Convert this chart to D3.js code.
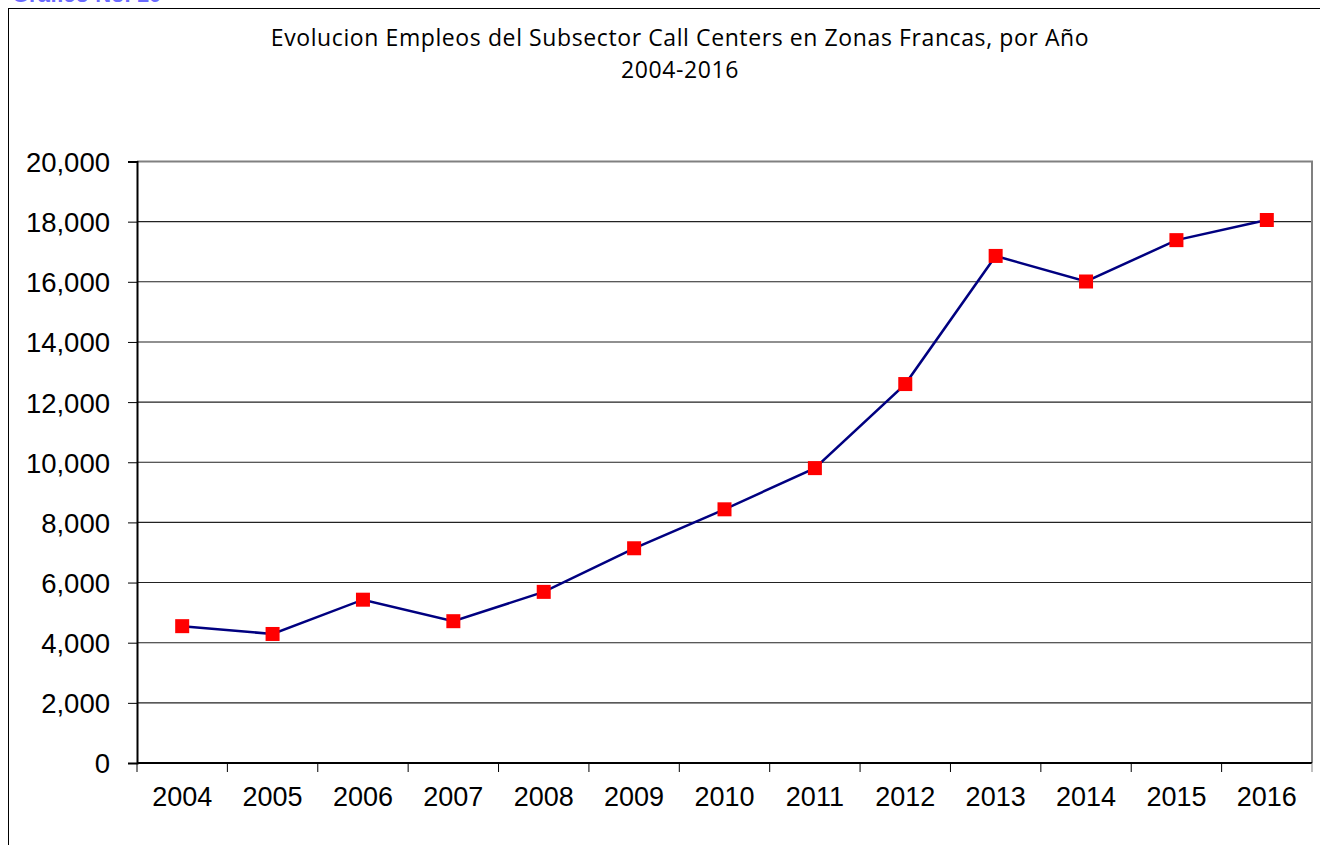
<!DOCTYPE html>
<html>
<head>
<meta charset="utf-8">
<script src="https://cdn.jsdelivr.net/npm/d3@7"></script>
<style>
  body { margin: 0; background: #fff; }
</style>
</head>
<body>
<div id="chart"></div>
<script>
// Data
var years = ["2004", "2005", "2006", "2007", "2008", "2009", "2010", "2011", "2012", "2013", "2014", "2015", "2016"];
var empleos = [4550, 4290, 5430, 4715, 5690, 7140, 8435, 9805, 12600, 16860, 16010, 17385, 18055];
var yTicks = [0, 2000, 4000, 6000, 8000, 10000, 12000, 14000, 16000, 18000, 20000];
var titleLines = ["Evolucion Empleos del Subsector Call Centers en Zonas Francas, por Año", "2004-2016"];

var W = 1320, H = 845;
var margin = {top: 161.5, right: 8, bottom: 82, left: 137};
var width = W - margin.left - margin.right,
    height = H - margin.top - margin.bottom;

var svg = d3.select("#chart")
    .append("svg")
    .attr("width", W)
    .attr("height", H);

// Caption above the frame, mostly cut off as in the original
svg.append("text")
    .attr("x", 12)
    .attr("y", 2)
    .text("Gráfico No. 10")
    .style("font-family", "Liberation Sans, Arial, sans-serif")
    .style("font-size", "22px")
    .style("font-weight", "bold")
    .style("fill", "#6a6aff");

// Outer chart frame (runs off the right and bottom edges)
svg.append("rect")
    .attr("x", 8.5)
    .attr("y", 8.5)
    .attr("width", W + 20)
    .attr("height", H + 20)
    .attr("fill", "none")
    .attr("stroke", "#000")
    .attr("stroke-width", 1);

// Title
svg.selectAll("titleLine")
    .data(titleLines)
    .enter()
    .append("text")
    .attr("x", 680)
    .attr("y", (d, i) => 46 + i * 31.5)
    .attr("text-anchor", "middle")
    .text(d => d)
    .style("font-family", "Open Sans, sans-serif")
    .style("font-size", "23px")
    .style("letter-spacing", "0.6px")
    .style("fill", "#000");

var g = svg.append("g")
    .attr("transform", "translate(" + margin.left + "," + margin.top + ")");

var x = d3.scaleBand()
    .domain(years)
    .range([0, width])
    .padding(0);

var y = d3.scaleLinear()
    .domain([0, 20000])
    .range([height, 0]);

// Gridlines
g.selectAll("grid")
    .data(yTicks.filter(d => d > 0 && d < 20000))
    .enter()
    .append("line")
    .attr("x1", 0)
    .attr("x2", width)
    .attr("y1", d => y(d))
    .attr("y2", d => y(d))
    .attr("stroke", "#222")
    .attr("stroke-width", 1.1);

// Plot area border: top and right in gray
g.append("path")
    .attr("d", "M0," + y(20000) + "H" + width + "V" + height)
    .attr("fill", "none")
    .attr("stroke", "#808080")
    .attr("stroke-width", 2);

// Y axis
var yAxis = g.append("g")
    .call(d3.axisLeft(y).tickValues(yTicks).tickSize(9).tickPadding(18).tickFormat(d3.format(",")));
yAxis.select(".domain").attr("stroke", "#000").attr("stroke-width", 2);
yAxis.selectAll(".tick line").attr("stroke", "#000");
yAxis.selectAll(".tick text")
    .attr("dy", "0.36em")
    .style("font-family", "Liberation Sans, Arial, sans-serif")
    .style("font-size", "27.5px")
    .style("fill", "#000");

// X axis: labels centered in each band, ticks on band boundaries
var xAxis = g.append("g")
    .attr("transform", "translate(0," + height + ")");
xAxis.append("line")
    .attr("x1", 0)
    .attr("x2", width)
    .attr("stroke", "#000")
    .attr("stroke-width", 2);
xAxis.selectAll("xTick")
    .data(years.concat(["end"]))
    .enter()
    .append("line")
    .attr("x1", (d, i) => i < years.length ? x(d) : width)
    .attr("x2", (d, i) => i < years.length ? x(d) : width)
    .attr("y1", 0)
    .attr("y2", 9)
    .attr("stroke", (d, i) => i < years.length ? "#000" : "#808080")
    .attr("stroke-width", 1);
xAxis.selectAll("xLabel")
    .data(years)
    .enter()
    .append("text")
    .attr("x", d => x(d) + x.bandwidth() / 2)
    .attr("y", 43)
    .attr("text-anchor", "middle")
    .text(d => d)
    .style("font-family", "Liberation Sans, Arial, sans-serif")
    .style("font-size", "27px")
    .style("fill", "#000");

// Line
var line = d3.line()
    .x((d, i) => x(years[i]) + x.bandwidth() / 2)
    .y(d => y(d));

g.append("path")
    .datum(empleos)
    .attr("d", line)
    .attr("fill", "none")
    .attr("stroke", "#000080")
    .attr("stroke-width", 2.5);

// Square markers
var ms = 14;
g.selectAll("marker")
    .data(empleos)
    .enter()
    .append("rect")
    .attr("x", (d, i) => x(years[i]) + x.bandwidth() / 2 - ms / 2)
    .attr("y", d => y(d) - ms / 2)
    .attr("width", ms)
    .attr("height", ms)
    .attr("fill", "#ff0000");
</script>
</body>
</html>
